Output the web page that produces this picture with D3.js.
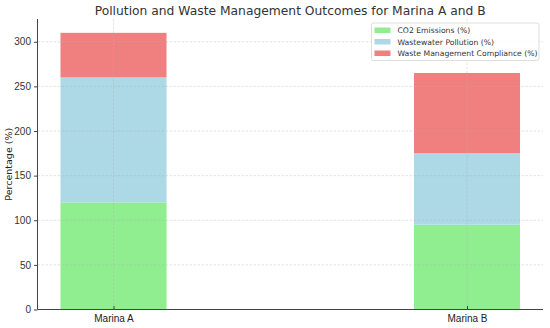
<!DOCTYPE html>
<html>
<head>
<meta charset="utf-8">
<script src="https://cdn.jsdelivr.net/npm/d3@7"></script>
<style>
  body { margin: 0; background: #fff; }
  svg { font-family: "DejaVu Sans", sans-serif; }
</style>
</head>
<body>
<div id="chart"></div>
<script>
var width = 550;
var height = 328;

// data
var marinas = ["Marina A", "Marina B"];
var seriesNames = ["CO2 Emissions (%)", "Wastewater Pollution (%)", "Waste Management Compliance (%)"];
var co2 = [120, 95];
var wastewater = [140, 80];
var compliance = [50, 90];
var yTicks = [0, 50, 100, 150, 200, 250, 300];
var colors = ["#90ee90", "#add8e6", "#f08080"];

var svg = d3.select("#chart").append("svg")
    .attr("width", width)
    .attr("height", height);

var margin = { top: 19, right: 7, bottom: 18.5, left: 37.5 };
var plotW = width - margin.left - margin.right;
var plotH = height - margin.top - margin.bottom;

var g = svg.append("g").attr("transform", "translate(" + margin.left + "," + margin.top + ")");

// matplotlib-like linear x: categories at 0 and 1, bar width 0.3
var x = d3.scaleLinear().domain([-0.215, 1.215]).range([0, plotW]);
var barW = 0.3;
var total = marinas.map(function (m, i) { return co2[i] + wastewater[i] + compliance[i]; });
var y = d3.scaleLinear().domain([0, d3.max(total) * 1.05]).range([plotH, 0]);

// stacked rows
var rows = marinas.map(function (m, i) {
    return { idx: i, name: m, c0: co2[i], c1: wastewater[i], c2: compliance[i] };
});
var stack = d3.stack().keys(["c0", "c1", "c2"]);
var layers = stack(rows);

g.selectAll(".layer")
    .data(layers)
    .enter().append("g")
    .attr("class", "layer")
    .attr("fill", function (d, i) { return colors[i]; })
    .selectAll("rect")
    .data(function (d) { return d; })
    .enter().append("rect")
    .attr("x", function (d) { return x(d.data.idx - barW / 2); })
    .attr("width", function (d) { return x(barW) - x(0); })
    .attr("y", function (d) { return y(d[1]); })
    .attr("height", function (d) { return y(d[0]) - y(d[1]); });

// grid (drawn over bars like the reference)
var grid = g.append("g").attr("class", "grid");
grid.selectAll(".hgrid").data(yTicks).enter().append("line")
    .attr("x1", 0).attr("x2", plotW)
    .attr("y1", function (d) { return y(d); }).attr("y2", function (d) { return y(d); })
    .attr("stroke", "#b0b0b0").attr("stroke-opacity", 0.45)
    .attr("stroke-dasharray", "2.5,1.5").attr("stroke-width", 0.8);
grid.selectAll(".vgrid").data(marinas).enter().append("line")
    .attr("y1", 0).attr("y2", plotH)
    .attr("x1", function (d, i) { return x(i); }).attr("x2", function (d, i) { return x(i); })
    .attr("stroke", "#b0b0b0").attr("stroke-opacity", 0.45)
    .attr("stroke-dasharray", "2.5,1.5").attr("stroke-width", 0.8);

// axes
var yAxis = d3.axisLeft(y).tickValues(yTicks).tickSize(3.5).tickPadding(3);
var yg = g.append("g").call(yAxis);
yg.select(".domain").attr("stroke", "#444").attr("stroke-width", 1).attr("d", "M0," + plotH + "V0");
yg.selectAll(".tick line").attr("stroke", "#444");
yg.selectAll("text").attr("font-size", "10px").attr("fill", "#333");

var xAxis = d3.axisBottom(x).tickValues([0, 1]).tickFormat(function (d) { return marinas[d]; }).tickSize(3.5).tickPadding(2);
var xg = g.append("g").attr("transform", "translate(0," + plotH + ")").call(xAxis);
xg.select(".domain").attr("stroke", "#444").attr("stroke-width", 1).attr("d", "M0,0H" + plotW);
xg.selectAll(".tick line").attr("stroke", "#444").attr("transform", "translate(0,-3.5)");
xg.selectAll("text").attr("font-size", "10px").attr("fill", "#222");

// title
svg.append("text")
    .attr("x", margin.left + plotW / 2)
    .attr("y", 15)
    .attr("text-anchor", "middle")
    .attr("font-size", "12.3px")
    .attr("fill", "#333")
    .text("Pollution and Waste Management Outcomes for Marina A and B");

// y label
svg.append("text")
    .attr("transform", "translate(12," + (margin.top + plotH / 2) + ") rotate(-90)")
    .attr("text-anchor", "middle")
    .attr("font-size", "9.5px")
    .attr("fill", "#222")
    .text("Percentage (%)");

// legend
var lg = svg.append("g").attr("transform", "translate(371.5,23)");
lg.append("rect")
    .attr("width", 167.5).attr("height", 37.5)
    .attr("rx", 2)
    .attr("fill", "#fff").attr("fill-opacity", 0.8)
    .attr("stroke", "#d6d6d6").attr("stroke-width", 0.8);
var items = lg.selectAll(".item").data(seriesNames).enter().append("g")
    .attr("transform", function (d, i) { return "translate(3," + (4.5 + i * 11.5) + ")"; });
items.append("rect")
    .attr("width", 16).attr("height", 5.5)
    .attr("fill", function (d, i) { return colors[i]; });
items.append("text")
    .attr("x", 23).attr("y", 5.5)
    .attr("font-size", "7.7px")
    .attr("fill", "#333")
    .text(function (d) { return d; });
</script>
</body>
</html>
